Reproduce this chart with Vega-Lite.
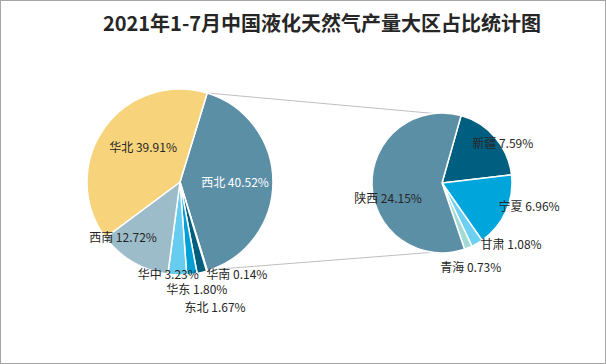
{
  "$schema": "https://vega.github.io/schema/vega-lite/v6.json",
  "width": 606,
  "height": 364,
  "padding": 0,
  "autosize": {"type": "none"},
  "background": "white",
  "view": {"stroke": "#a6a6a6", "strokeWidth": 2},
  "config": {"axis": {"disable": true}, "legend": {"disable": true}},
  "title": {
    "text": "2021年1-7月中国液化天然气产量大区占比统计图",
    "font": "Noto Sans CJK SC",
    "fontSize": 20,
    "fontWeight": "bold",
    "color": "#262626",
    "anchor": "middle",
    "frame": "group",
    "dx": 19,
    "offset": -35
  },
  "datasets": {
    "left": [
      {"name": "西北", "value": 40.52, "i": 1, "label": "西北 40.52%"},
      {"name": "华南", "value": 0.14, "i": 2, "label": "华南 0.14%"},
      {"name": "东北", "value": 1.67, "i": 3, "label": "东北 1.67%"},
      {"name": "华东", "value": 1.80, "i": 4, "label": "华东 1.80%"},
      {"name": "华中", "value": 3.23, "i": 5, "label": "华中 3.23%"},
      {"name": "西南", "value": 12.72, "i": 6, "label": "西南 12.72%"},
      {"name": "华北", "value": 39.91, "i": 7, "label": "华北 39.91%"}
    ],
    "right": [
      {"name": "新疆", "value": 7.59, "i": 1, "label": "新疆 7.59%"},
      {"name": "宁夏", "value": 6.96, "i": 2, "label": "宁夏 6.96%"},
      {"name": "甘肃", "value": 1.08, "i": 3, "label": "甘肃 1.08%"},
      {"name": "青海", "value": 0.73, "i": 4, "label": "青海 0.73%"},
      {"name": "陕西", "value": 24.15, "i": 5, "label": "陕西 24.15%"}
    ]
  },
  "layer": [
    {
      "data": {"values": [{}]},
      "mark": {"type": "rule", "color": "#bfbfbf", "strokeWidth": 1},
      "encoding": {
        "x": {"datum": 207, "type": "quantitative", "scale": {"domain": [0, 606], "nice": false, "zero": false}, "axis": null},
        "y": {"datum": 93, "type": "quantitative", "scale": {"domain": [0, 364], "nice": false, "zero": false, "reverse": true}, "axis": null},
        "x2": {"datum": 462},
        "y2": {"datum": 116}
      }
    },
    {
      "data": {"values": [{}]},
      "mark": {"type": "rule", "color": "#bfbfbf", "strokeWidth": 1},
      "encoding": {
        "x": {"datum": 207, "type": "quantitative", "scale": {"domain": [0, 606], "nice": false, "zero": false}, "axis": null},
        "y": {"datum": 270, "type": "quantitative", "scale": {"domain": [0, 364], "nice": false, "zero": false, "reverse": true}, "axis": null},
        "x2": {"datum": 462},
        "y2": {"datum": 250}
      }
    },
    {
      "data": {"name": "left"},
      "encoding": {
        "x": {"datum": 180, "type": "quantitative", "scale": {"domain": [0, 606], "nice": false, "zero": false}, "axis": null},
        "y": {"datum": 182, "type": "quantitative", "scale": {"domain": [0, 364], "nice": false, "zero": false, "reverse": true}, "axis": null},
        "theta": {"field": "value", "type": "quantitative", "stack": true, "scale": {"range": [0.2967, 6.5799]}},
        "order": {"field": "i", "type": "quantitative"}
      },
      "layer": [
        {
          "mark": {"type": "arc", "outerRadius": 93, "stroke": "white", "strokeWidth": 1.5},
          "encoding": {
            "color": {
              "field": "name",
              "type": "nominal",
              "legend": null,
              "scale": {
                "domain": ["西北", "华南", "东北", "华东", "华中", "西南", "华北"],
                "range": ["#5B8FA6", "#9FD4E4", "#005E7E", "#00A0D6", "#66CCF0", "#9DBCCA", "#F7D37C"]
              }
            }
          }
        },
        {
          "mark": {"type": "text", "radius": 50, "dx": 4, "dy": -5, "font": "Noto Sans CJK SC", "fontSize": 12, "color": "#262626", "align": "center", "baseline": "middle"},
          "encoding": {"text": {"condition": {"test": "datum.name === '华北'", "field": "label"}, "value": ""}}
        },
        {
          "mark": {"type": "text", "radius": 55, "dx": 0, "dy": 1, "font": "Noto Sans CJK SC", "fontSize": 12, "color": "white", "align": "center", "baseline": "middle"},
          "encoding": {"text": {"condition": {"test": "datum.name === '西北'", "field": "label"}, "value": ""}}
        },
        {
          "mark": {"type": "text", "radius": 75, "dx": -19, "dy": -9, "font": "Noto Sans CJK SC", "fontSize": 12, "color": "#262626", "align": "center", "baseline": "middle"},
          "encoding": {"text": {"condition": {"test": "datum.name === '西南'", "field": "label"}, "value": ""}}
        },
        {
          "mark": {"type": "text", "radius": 93, "dx": -9, "dy": 0, "font": "Noto Sans CJK SC", "fontSize": 12, "color": "#262626", "align": "center", "baseline": "middle"},
          "encoding": {"text": {"condition": {"test": "datum.name === '华中'", "field": "label"}, "value": ""}}
        },
        {
          "mark": {"type": "text", "radius": 108, "dx": 3, "dy": 1, "font": "Noto Sans CJK SC", "fontSize": 12, "color": "#262626", "align": "center", "baseline": "middle"},
          "encoding": {"text": {"condition": {"test": "datum.name === '华东'", "field": "label"}, "value": ""}}
        },
        {
          "mark": {"type": "text", "radius": 128, "dx": 5, "dy": 2, "font": "Noto Sans CJK SC", "fontSize": 12, "color": "#262626", "align": "center", "baseline": "middle"},
          "encoding": {"text": {"condition": {"test": "datum.name === '东北'", "field": "label"}, "value": ""}}
        },
        {
          "mark": {"type": "text", "radius": 96, "dx": 29, "dy": 1, "font": "Noto Sans CJK SC", "fontSize": 12, "color": "#262626", "align": "center", "baseline": "middle"},
          "encoding": {"text": {"condition": {"test": "datum.name === '华南'", "field": "label"}, "value": ""}}
        }
      ]
    },
    {
      "data": {"name": "right"},
      "encoding": {
        "x": {"datum": 442, "type": "quantitative", "scale": {"domain": [0, 606], "nice": false, "zero": false}, "axis": null},
        "y": {"datum": 183, "type": "quantitative", "scale": {"domain": [0, 364], "nice": false, "zero": false, "reverse": true}, "axis": null},
        "theta": {"field": "value", "type": "quantitative", "stack": true, "scale": {"range": [0.2758, 6.559]}},
        "order": {"field": "i", "type": "quantitative"}
      },
      "layer": [
        {
          "mark": {"type": "arc", "outerRadius": 70, "stroke": "white", "strokeWidth": 1.5},
          "encoding": {
            "color": {
              "field": "name",
              "type": "nominal",
              "legend": null,
              "scale": {
                "domain": ["新疆", "宁夏", "甘肃", "青海", "陕西"],
                "range": ["#005F80", "#00A5DC", "#6DD0F2", "#A3DAD6", "#5B8FA6"]
              }
            }
          }
        },
        {
          "mark": {"type": "text", "radius": 72, "dx": 6, "dy": 8, "font": "Noto Sans CJK SC", "fontSize": 12, "color": "#262626", "align": "center", "baseline": "middle"},
          "encoding": {"text": {"condition": {"test": "datum.name === '新疆'", "field": "label"}, "value": ""}}
        },
        {
          "mark": {"type": "text", "radius": 90, "dx": 5, "dy": -13, "font": "Noto Sans CJK SC", "fontSize": 12, "color": "#262626", "align": "center", "baseline": "middle"},
          "encoding": {"text": {"condition": {"test": "datum.name === '宁夏'", "field": "label"}, "value": ""}}
        },
        {
          "mark": {"type": "text", "radius": 90, "dx": 24, "dy": -16, "font": "Noto Sans CJK SC", "fontSize": 12, "color": "#262626", "align": "center", "baseline": "middle"},
          "encoding": {"text": {"condition": {"test": "datum.name === '甘肃'", "field": "label"}, "value": ""}}
        },
        {
          "mark": {"type": "text", "radius": 90, "dx": -5, "dy": 2, "font": "Noto Sans CJK SC", "fontSize": 12, "color": "#262626", "align": "center", "baseline": "middle"},
          "encoding": {"text": {"condition": {"test": "datum.name === '青海'", "field": "label"}, "value": ""}}
        },
        {
          "mark": {"type": "text", "radius": 54, "dx": 0, "dy": 15, "font": "Noto Sans CJK SC", "fontSize": 12, "color": "#262626", "align": "center", "baseline": "middle"},
          "encoding": {"text": {"condition": {"test": "datum.name === '陕西'", "field": "label"}, "value": ""}}
        }
      ]
    }
  ],
  "resolve": {"scale": {"theta": "independent", "color": "independent"}}
}
